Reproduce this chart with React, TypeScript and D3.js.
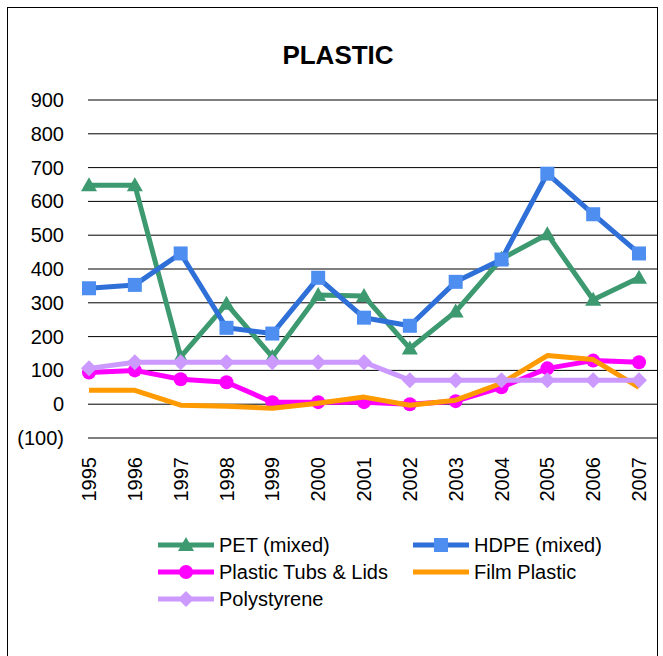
import React from 'react';
import * as d3 from 'd3';

const years = ['1995','1996','1997','1998','1999','2000','2001','2002','2003','2004','2005','2006','2007'];
const pet = [648, 648, 140, 297, 140, 323, 320, 165, 274, 430, 503, 309, 374];
const hdpe = [343, 353, 446, 226, 209, 374, 256, 232, 362, 428, 682, 562, 446];
const tubs = [94, 100, 74, 65, 6, 6, 6, 0, 9, 50, 106, 129, 124];
const film = [41, 41, -3, -6, -12, 3, 21, -3, 12, 62, 144, 132, 50];
const poly = [106, 124, 124, 124, 124, 124, 124, 71, 71, 71, 71, 71, 71];
const yTicks = [-100, 0, 100, 200, 300, 400, 500, 600, 700, 800, 900];

const series = [
  { name: 'PET (mixed)', data: pet, color: '#3d9970', marker: 'triangle' },
  { name: 'HDPE (mixed)', data: hdpe, color: '#2e6fd8', mcolor: '#4d8ef0', marker: 'square' },
  { name: 'Plastic Tubs & Lids', data: tubs, color: '#ff00ff', marker: 'circle' },
  { name: 'Film Plastic', data: film, color: '#ff9a00', marker: 'none' },
  { name: 'Polystyrene', data: poly, color: '#cc99ff', marker: 'diamond' },
];

const font = 'Arial, "Liberation Sans", sans-serif';

function Marker({ type, x, y, color }: { type: string; x: number; y: number; color: string }) {
  if (type === 'triangle') return <path d={`M${x},${y - 8}L${x + 8},${y + 6}L${x - 8},${y + 6}Z`} fill={color} />;
  if (type === 'square') return <rect x={x - 7} y={y - 7} width={14} height={14} fill={color} />;
  if (type === 'circle') return <circle cx={x} cy={y} r={7} fill={color} />;
  if (type === 'diamond') return <path d={`M${x},${y - 8}L${x + 8},${y}L${x},${y + 8}L${x - 8},${y}Z`} fill={color} />;
  return null;
}

export default function App() {
  const W = 663, H = 656;
  const x = d3.scalePoint<string>().domain(years).range([89, 639]);
  const y = d3.scaleLinear().domain([-100, 900]).range([438, 100]);
  const line = d3.line<number>().x((_, i) => x(years[i])!).y(d => y(d));
  const legend = [
    { s: series[0], lx: 158, ly: 545 },
    { s: series[1], lx: 413, ly: 545 },
    { s: series[2], lx: 158, ly: 572 },
    { s: series[3], lx: 413, ly: 572 },
    { s: series[4], lx: 158, ly: 599 },
  ];
  return (
    <svg width={W} height={H} style={{ position: 'absolute', left: 0, top: 0 }} fontFamily={font}>
      <rect x={0} y={0} width={W} height={H} fill="#fff" />
      <rect x={7.5} y={7.5} width={650} height={660} fill="none" stroke="#000" strokeWidth={1} />
      <text x={338} y={64} textAnchor="middle" fontSize={26} fontWeight="bold">PLASTIC</text>
      {yTicks.map(t => (
        <g key={t}>
          <line x1={88} x2={658} y1={y(t)} y2={y(t)} stroke="#000" strokeWidth={1} />
          <text x={64} y={y(t) + 7} textAnchor="end" fontSize={20}>{t < 0 ? `(${-t})` : t}</text>
        </g>
      ))}
      {years.map(yr => (
        <text key={yr} transform={`translate(${x(yr)! + 7},457) rotate(-90)`} textAnchor="end" fontSize={20}>{yr}</text>
      ))}
      {series.map(s => (
        <g key={s.name}>
          <path d={line(s.data)!} fill="none" stroke={s.color} strokeWidth={5} strokeLinejoin="round" />
          {s.data.map((v, i) => (
            <Marker key={i} type={s.marker} x={x(years[i])!} y={y(v)} color={(s as any).mcolor || s.color} />
          ))}
        </g>
      ))}
      {legend.map(({ s, lx, ly }) => (
        <g key={s.name}>
          <line x1={lx} x2={lx + 56} y1={ly} y2={ly} stroke={s.color} strokeWidth={5} />
          <Marker type={s.marker} x={lx + 28} y={ly} color={(s as any).mcolor || s.color} />
          <text x={lx + 61} y={ly + 7} fontSize={20}>{s.name}</text>
        </g>
      ))}
    </svg>
  );
}
